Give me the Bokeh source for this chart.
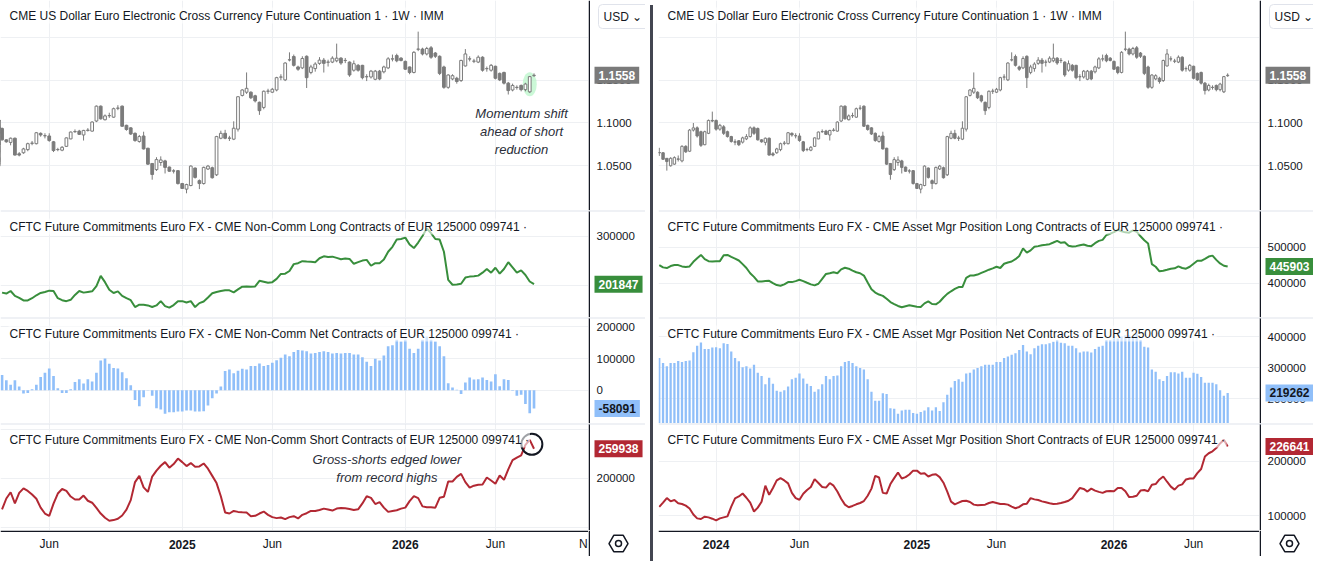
import numpy as np
import pandas as pd
from bokeh.plotting import figure
from bokeh.models import Range1d, FixedTicker, Grid, Label, Span, ColumnDataSource, Div
from bokeh.layouts import row, column
from bokeh.core.properties import value
from bokeh.embed import file_html
from bokeh.resources import INLINE

# ---------------- data ----------------
WEEK_START = "2023-09-18"      # first weekly bar (Monday)
LEFT_FIRST_WEEK = "2024-03-18"  # first week of the Non-Comm series

price_open = [1.0655, 1.0652, 1.0587, 1.0500, 1.0519, 1.0580, 1.0557, 1.0727, 1.0670, 1.0917,
              1.0943, 1.0898, 1.0746, 1.0879, 1.1030, 1.1030, 1.0928, 1.0955, 1.0898, 1.0841,
              1.0780, 1.0792, 1.0776, 1.0814, 1.0841, 1.0943, 1.0936, 1.0803, 1.0773, 1.0822,
              1.0640, 1.0652, 1.0689, 1.0762, 1.0758, 1.0879, 1.0850, 1.0848, 1.0780, 1.0690,
              1.0682, 1.0727, 1.0814, 1.0898, 1.0905, 1.0860, 1.0913, 1.0905, 1.1023, 1.1197,
              1.1038, 1.1085, 1.1068, 1.1172, 1.1197, 1.0973, 1.0943, 1.0879, 1.0784, 1.0848,
              1.0705, 1.0527, 1.0455, 1.0538, 1.0557, 1.0485, 1.0440, 1.0443, 1.0292, 1.0227,
              1.0269, 1.0473, 1.0326, 1.0292, 1.0462, 1.0477, 1.0394, 1.0822, 1.0879, 1.0824,
              1.0811, 1.0928, 1.1322, 1.1360, 1.1360, 1.1318, 1.1242, 1.1182, 1.1371, 1.1360,
              1.1386, 1.1536, 1.1504, 1.1737, 1.1777, 1.1655, 1.1644, 1.1780, 1.1591, 1.1636,
              1.1697, 1.1735, 1.1710, 1.1712, 1.1727, 1.1758, 1.1730, 1.1712, 1.1617, 1.1674,
              1.1674, 1.1540, 1.1538, 1.1511, 1.1606, 1.1598, 1.1644, 1.1748, 1.1788, 1.1758,
              1.1720, 1.1655, 1.1591, 1.1862, 1.1864, 1.1807, 1.1879, 1.1818, 1.1780, 1.1655,
              1.1417, 1.1515, 1.1523, 1.1496, 1.1667, 1.1748, 1.1722, 1.1712, 1.1769, 1.1635,
              1.1617, 1.1663, 1.1580, 1.1591, 1.1466, 1.1386, 1.1415, 1.1439, 1.1390, 1.1364,
              1.1553]
price_high = [1.0710, 1.0660, 1.0590, 1.0600, 1.0610, 1.0620, 1.0740, 1.0740, 1.0930, 1.1000,
              1.0960, 1.0910, 1.0910, 1.1040, 1.1133, 1.1040, 1.0990, 1.0975, 1.0910, 1.0850,
              1.0810, 1.0800, 1.0840, 1.0870, 1.0960, 1.0960, 1.0947, 1.0810, 1.0830, 1.0830,
              1.0660, 1.0710, 1.0770, 1.0790, 1.0895, 1.0890, 1.0880, 1.0880, 1.0790, 1.0710,
              1.0730, 1.0830, 1.0900, 1.0925, 1.0920, 1.0920, 1.0940, 1.1020, 1.1205, 1.1205,
              1.1100, 1.1120, 1.1180, 1.1208, 1.1205, 1.0980, 1.0950, 1.0890, 1.0860, 1.0898,
              1.0710, 1.0530, 1.0600, 1.0610, 1.0570, 1.0490, 1.0460, 1.0450, 1.0300, 1.0290,
              1.0505, 1.0480, 1.0340, 1.0490, 1.0510, 1.0490, 1.0850, 1.0910, 1.0920, 1.0850,
              1.1020, 1.1310, 1.1395, 1.1591, 1.1370, 1.1330, 1.1250, 1.1380, 1.1400, 1.1410,
              1.1540, 1.1570, 1.1710, 1.1826, 1.1800, 1.1670, 1.1780, 1.1790, 1.1680, 1.1710,
              1.1770, 1.1760, 1.1740, 1.1780, 1.1928, 1.1770, 1.1760, 1.1720, 1.1731, 1.1690,
              1.1680, 1.1570, 1.1620, 1.1620, 1.1620, 1.1670, 1.1770, 1.1800, 1.1810, 1.1770,
              1.1730, 1.1660, 1.1840, 1.2068, 1.1880, 1.1890, 1.1900, 1.1830, 1.1790, 1.1670,
              1.1570, 1.1570, 1.1540, 1.1740, 1.1864, 1.1780, 1.1750, 1.1790, 1.1780, 1.1660,
              1.1690, 1.1670, 1.1590, 1.1600, 1.1480, 1.1460, 1.1440, 1.1450, 1.1470, 1.1550,
              1.1580]
price_low = [1.0615, 1.0570, 1.0443, 1.0490, 1.0510, 1.0550, 1.0540, 1.0650, 1.0660, 1.0900,
             1.0830, 1.0720, 1.0740, 1.0870, 1.1010, 1.0910, 1.0910, 1.0860, 1.0830, 1.0770,
             1.0740, 1.0730, 1.0760, 1.0800, 1.0830, 1.0860, 1.0795, 1.0770, 1.0739, 1.0620,
             1.0610, 1.0640, 1.0670, 1.0740, 1.0750, 1.0840, 1.0820, 1.0780, 1.0660, 1.0670,
             1.0670, 1.0720, 1.0810, 1.0885, 1.0860, 1.0795, 1.0900, 1.0900, 1.1010, 1.1040,
             1.1030, 1.1060, 1.1060, 1.1150, 1.0955, 1.0910, 1.0860, 1.0780, 1.0770, 1.0690,
             1.0510, 1.0337, 1.0440, 1.0500, 1.0410, 1.0430, 1.0410, 1.0280, 1.0230, 1.0178,
             1.0260, 1.0350, 1.0227, 1.0280, 1.0450, 1.0350, 1.0380, 1.0810, 1.0810, 1.0790,
             1.0800, 1.0900, 1.1310, 1.1340, 1.1280, 1.1240, 1.1095, 1.1160, 1.1340, 1.1350,
             1.1370, 1.1500, 1.1490, 1.1720, 1.1660, 1.1610, 1.1630, 1.1409, 1.1570, 1.1600,
             1.1680, 1.1590, 1.1660, 1.1700, 1.1710, 1.1680, 1.1700, 1.1540, 1.1600, 1.1600,
             1.1510, 1.1490, 1.1520, 1.1500, 1.1500, 1.1580, 1.1630, 1.1720, 1.1710, 1.1720,
             1.1620, 1.1570, 1.1580, 1.1840, 1.1790, 1.1790, 1.1750, 1.1760, 1.1560, 1.1400,
             1.1400, 1.1500, 1.1460, 1.1480, 1.1660, 1.1720, 1.1700, 1.1700, 1.1600, 1.1600,
             1.1600, 1.1510, 1.1490, 1.1450, 1.1333, 1.1370, 1.1390, 1.1370, 1.1370, 1.1350,
             1.1540]
price_close = [1.0650, 1.0576, 1.0549, 1.0587, 1.0595, 1.0576, 1.0727, 1.0663, 1.0917, 1.0943,
               1.0848, 1.0739, 1.0898, 1.1030, 1.1023, 1.0928, 1.0973, 1.0879, 1.0841, 1.0784,
               1.0776, 1.0746, 1.0826, 1.0841, 1.0943, 1.0879, 1.0803, 1.0780, 1.0822, 1.0625,
               1.0625, 1.0697, 1.0758, 1.0765, 1.0886, 1.0860, 1.0852, 1.0795, 1.0678, 1.0689,
               1.0716, 1.0826, 1.0894, 1.0900, 1.0867, 1.0913, 1.0917, 1.1011, 1.1197, 1.1049,
               1.1083, 1.1087, 1.1167, 1.1174, 1.0962, 1.0924, 1.0871, 1.0795, 1.0841, 1.0697,
               1.0519, 1.0398, 1.0572, 1.0568, 1.0481, 1.0436, 1.0438, 1.0292, 1.0235, 1.0280,
               1.0496, 1.0364, 1.0292, 1.0481, 1.0496, 1.0360, 1.0841, 1.0879, 1.0822, 1.0822,
               1.0939, 1.1307, 1.1386, 1.1405, 1.1295, 1.1258, 1.1144, 1.1371, 1.1373, 1.1394,
               1.1530, 1.1538, 1.1701, 1.1739, 1.1674, 1.1629, 1.1754, 1.1530, 1.1655, 1.1689,
               1.1735, 1.1697, 1.1712, 1.1758, 1.1758, 1.1701, 1.1732, 1.1561, 1.1693, 1.1617,
               1.1530, 1.1542, 1.1606, 1.1606, 1.1515, 1.1655, 1.1750, 1.1750, 1.1727, 1.1731,
               1.1629, 1.1591, 1.1826, 1.1864, 1.1807, 1.1871, 1.1769, 1.1780, 1.1580, 1.1417,
               1.1561, 1.1553, 1.1485, 1.1731, 1.1807, 1.1750, 1.1724, 1.1769, 1.1617, 1.1636,
               1.1674, 1.1523, 1.1504, 1.1466, 1.1379, 1.1439, 1.1417, 1.1390, 1.1455, 1.1542,
               1.1558]

noncomm_long = [184700, 182700, 188000, 178000, 174000, 168700, 168700, 173300, 179300, 184000,
                186000, 188700, 188000, 173300, 169300, 167300, 170000, 180000, 188000, 184700,
                186000, 187300, 198000, 218700, 206000, 190700, 184000, 187300, 178000, 173300,
                169300, 155300, 160000, 160000, 158600, 155300, 158600, 167300, 157300, 154000,
                159300, 167300, 167300, 164600, 167300, 155300, 163300, 166700, 174700, 183300,
                186000, 188000, 189300, 189300, 185300, 191300, 196700, 197300, 196700, 197300,
                208700, 206700, 204700, 206000, 212700, 222700, 223300, 228700, 242700, 244700,
                248700, 248000, 247400, 246700, 254700, 258700, 257400, 258000, 255400, 252700,
                254000, 253400, 243400, 246700, 250000, 251400, 239400, 244700, 244700, 252000,
                268000, 278000, 292700, 294000, 296700, 282700, 275400, 286700, 300000, 315400,
                306000, 294000, 292700, 268000, 210700, 200700, 201300, 202700, 215300, 217300,
                218000, 219300, 225300, 232700, 225300, 235400, 223300, 232700, 246700, 236000,
                225300, 230000, 220700, 207300, 201847]
noncomm_net = [47900, 31300, 16700, 31300, 11500, -10400, -9400, 3100, 16700, 41700,
               55200, 68800, 44800, 6300, -9400, -9400, 3100, 26000, 34400, 20800,
               34400, 27100, 55200, 93800, 100000, 83400, 69800, 68800, 56300, 37500,
               15600, -31300, -51100, -22900, -1000, -17700, -57300, -61500, -75000, -69800,
               -69800, -67700, -67700, -64600, -64600, -67700, -67700, -66700, -49000, -26000,
               -10400, 11500, 60400, 65600, 53100, 61500, 67700, 65600, 76100, 76100,
               84400, 76100, 79200, 86500, 94800, 102100, 112500, 107300, 120900, 127100,
               125000, 123000, 115700, 117700, 120900, 123000, 120900, 115700, 117700, 115700,
               117700, 117700, 112500, 112500, 104200, 89600, 76100, 99000, 93800, 109400,
               138600, 141700, 159400, 154200, 159400, 131300, 117700, 131300, 159400, 169800,
               159400, 154200, 138600, 107300, 21900, 8300, 1500, -12500, 24000, 39600,
               33300, 34400, 39600, 32300, 27100, 50000, 12500, 34400, 32300, -2000,
               -17700, -14600, -43800, -72900, -58091]
noncomm_short = [136600, 158600, 171300, 148600, 170000, 179300, 174000, 166600, 158000, 140000,
                 128000, 123300, 148000, 168700, 178000, 174000, 162600, 156600, 156600, 164600,
                 154000, 150000, 139300, 128000, 119300, 113300, 114600, 117300, 124000, 136000,
                 155300, 192000, 204700, 181300, 172000, 203300, 215300, 225300, 232700, 221300,
                 228700, 240000, 232700, 224700, 230700, 223300, 224000, 230000, 219300, 204700,
                 190000, 163300, 130000, 128000, 133300, 131300, 130600, 130000, 122600, 123300,
                 128000, 132000, 125300, 120600, 118600, 120000, 116600, 120600, 122600, 118000,
                 125300, 128600, 133300, 133300, 135300, 138000, 136000, 134000, 138000, 139300,
                 138600, 137300, 135300, 136600, 148600, 163300, 160000, 147300, 151300, 140000,
                 131300, 133300, 134600, 138000, 140000, 153300, 163300, 159300, 142600, 140600,
                 140600, 140000, 160000, 162000, 193300, 193300, 202700, 208700, 192000, 180700,
                 184700, 186700, 187300, 201300, 195300, 188700, 205300, 196700, 218000, 236700,
                 242000, 246700, 268000, 278000, 259938]

assetmgr_long = [450100, 443700, 441900, 447300, 450100, 450100, 446400, 444600, 446400, 459100,
                 469100, 478200, 466400, 461000, 460000, 461000, 461000, 477300, 478200, 472800,
                 468200, 462800, 452800, 441900, 427400, 417400, 404700, 404700, 405600, 406500,
                 400100, 394700, 392900, 396500, 402800, 402800, 405600, 409200, 405600, 401000,
                 396500, 393800, 398300, 411900, 425500, 427400, 430100, 427400, 438300, 442800,
                 440100, 434600, 430100, 427400, 421000, 401900, 382900, 373800, 368300, 364700,
                 356500, 347500, 342000, 336600, 332900, 335700, 338400, 336600, 334700, 333800,
                 343800, 349300, 342000, 341100, 348400, 360200, 370200, 377400, 383800, 389200,
                 389200, 414600, 421000, 421000, 423700, 428300, 432800, 437300, 441000, 445500,
                 441900, 453700, 457300, 460000, 466400, 475500, 496400, 484600, 490900, 500900,
                 502700, 505400, 506400, 508200, 512700, 517300, 511800, 513600, 503600, 501800,
                 502700, 505400, 507300, 503600, 502700, 510900, 517300, 520000, 533600, 537200,
                 541800, 548100, 543600, 540900, 540000, 546300, 542700, 530000, 519100, 510000,
                 452800, 445500, 432800, 434600, 437300, 440100, 441000, 446400, 441900, 440100,
                 445500, 453700, 461900, 461900, 467300, 473700, 476400, 464600, 454600, 448200,
                 445903]
assetmgr_net = [331400, 315600, 305100, 315600, 315600, 321900, 318800, 321900, 324000, 350400,
                371500, 382100, 361000, 361000, 365200, 366200, 363100, 378900, 376800, 352500,
                331400, 320900, 301900, 305100, 297700, 310300, 284000, 273400, 247000, 268100,
                249100, 225900, 222800, 228000, 239600, 262900, 268100, 281800, 266000, 249100,
                241800, 222800, 231200, 247000, 273400, 262900, 273400, 275500, 305100, 318800,
                321900, 315600, 305100, 299800, 294500, 262900, 222800, 194300, 194300, 218500,
                215400, 170000, 167900, 152100, 162600, 164700, 164700, 154200, 152100, 157400,
                162600, 173200, 162600, 173200, 160500, 189000, 213300, 236500, 257600, 262900,
                255500, 281800, 284000, 294500, 299800, 305100, 310300, 310300, 310300, 318800,
                318800, 331400, 336700, 342000, 347300, 357800, 373600, 352500, 344100, 363100,
                371500, 375700, 375700, 378900, 384200, 389500, 381000, 378900, 371500, 371500,
                363100, 349400, 352500, 352500, 349400, 361000, 368400, 371500, 389500, 389500,
                400000, 394700, 400000, 405300, 405300, 400000, 410600, 389500, 368400, 365200,
                294500, 287100, 262900, 257600, 273400, 286100, 286100, 281800, 287100, 268100,
                268100, 284000, 280800, 270200, 252300, 252300, 252300, 247000, 228000, 210100,
                219262]
assetmgr_short = [116200, 124000, 132400, 126400, 128800, 122800, 121600, 118600, 113200, 102400,
                  95300, 94100, 98300, 97100, 94700, 91700, 95300, 97100, 98900, 116800,
                  131800, 135400, 140700, 133000, 124000, 107800, 115000, 125800, 155100, 138400,
                  150900, 164700, 168900, 164700, 159300, 141900, 132400, 129400, 140200, 147300,
                  152700, 167100, 159900, 152700, 151500, 159900, 155100, 144300, 131200, 120400,
                  115600, 118000, 121000, 123400, 127000, 136600, 149700, 173100, 170100, 141900,
                  140700, 158100, 168900, 179100, 168300, 170700, 175500, 182600, 182600, 176700,
                  177900, 171900, 174900, 176100, 170700, 160500, 144300, 125800, 121000, 124000,
                  127000, 127600, 125200, 120400, 119200, 119800, 120400, 123400, 125200, 123400,
                  121600, 121600, 120400, 116800, 113800, 116200, 121000, 122200, 132400, 130000,
                  128800, 126400, 124600, 122800, 121600, 122200, 123400, 125200, 127600, 132400,
                  141900, 150900, 149100, 144300, 149700, 146100, 143700, 141900, 144900, 145500,
                  144900, 150900, 150900, 144900, 134200, 134800, 136600, 146100, 147300, 144900,
                  156900, 158100, 166500, 171900, 162300, 153300, 147900, 155100, 157500, 166500,
                  168300, 168300, 177900, 185600, 208400, 214400, 218000, 223900, 232300, 238900,
                  226641]

left_tick_months = ["2024-06", "2025-01", "2025-06", "2026-01", "2026-06", "2026-11"]
left_tick_labels = ["Jun", "2025", "Jun", "2026", "Jun", "Nov"]
right_tick_months = ["2024-01", "2024-06", "2025-01", "2025-06", "2026-01", "2026-06"]
right_tick_labels = ["2024", "Jun", "2025", "Jun", "2026", "Jun"]

PRICE_TITLE = "CME US Dollar Euro Electronic Cross Currency Future Continuation 1 \u00b7 1W \u00b7 IMM"
LEFT_TITLES = ["CFTC Future Commitments Euro FX - CME Non-Comm Long Contracts of EUR 125000 099741 \u00b7",
               "CFTC Future Commitments Euro FX - CME Non-Comm Net Contracts of EUR 125000 099741 \u00b7",
               "CFTC Future Commitments Euro FX - CME Non-Comm Short Contracts of EUR 125000 099741 \u00b7"]
RIGHT_TITLES = ["CFTC Future Commitments Euro FX - CME Asset Mgr Position Long Contracts of EUR 125000 099741 \u00b7",
                "CFTC Future Commitments Euro FX - CME Asset Mgr Position Net Contracts of EUR 125000 099741 \u00b7",
                "CFTC Future Commitments Euro FX - CME Asset Mgr Position Short Contracts of EUR 125000 099741 \u00b7"]
NOTE_PRICE = "Momentum shift\nahead of short\nreduction"
NOTE_SHORT = "Gross-shorts edged lower\nfrom record highs"

# ---------------- style ----------------
FONT = "Liberation Sans"
TXT = "#131722"
GRID = "#eef0f3"
CANDLE = "#7b7b7b"
GREEN = "#388e3c"
RED = "#b22833"
BLUE = "#90bff9"
AXLINE = "#131722"
PANE_SEP = "#e0e3eb"

H_TOP, H_L, H_N, H_S, H_X = 210, 107, 106, 107, 26
PW_L, AX_L = 588, 57
PW_R, AX_R = 601, 54


def bar_of(month):
    d = (pd.Timestamp(month + "-01") - pd.Timestamp(WEEK_START)).days
    return int(np.ceil(d / 7))


n_all = len(price_close)
x_all = np.arange(n_all)
left_first = (pd.Timestamp(LEFT_FIRST_WEEK) - pd.Timestamp(WEEK_START)).days // 7
x_left = np.arange(left_first, left_first + len(noncomm_long))

left_ticks = [bar_of(m) for m in left_tick_months]
right_ticks = [bar_of(m) for m in right_tick_months]

xr_left = Range1d(25.64, 162.7)
xr_right = Range1d(-0.2, 158.4)


def base_fig(w, h, xr, yr):
    p = figure(width=w, height=h, x_range=xr, y_range=yr, x_axis_type=None, y_axis_type=None,
               output_backend="svg", toolbar_location=None, title=None,
               min_border_left=0, min_border_right=0, min_border_top=0, min_border_bottom=0)
    p.outline_line_color = None
    p.background_fill_color = "white"
    p.border_fill_color = "white"
    return p


def pane(xr, w, h, yr, gticks, xticks, sep=True):
    p = base_fig(w, h, xr, yr)
    p.add_layout(Grid(dimension=1, ticker=FixedTicker(ticks=gticks), grid_line_color=GRID))
    p.add_layout(Grid(dimension=0, ticker=FixedTicker(ticks=xticks), grid_line_color=GRID))
    if sep:
        p.add_layout(Span(location=yr.end, dimension="width", line_color=PANE_SEP, line_width=2))
    return p


def price_axis(w, h, yr, ticks, labels, sep=True):
    a = base_fig(w, h, Range1d(0, w), yr)
    a.add_layout(Span(location=0.75, dimension="height", line_color=AXLINE, line_width=1.5))
    if sep:
        a.add_layout(Span(location=yr.end, dimension="width", line_color=PANE_SEP, line_width=2))
    src = ColumnDataSource(dict(x=[8] * len(ticks), y=ticks, t=labels))
    a.text(x="x", y="y", text="t", source=src, text_font=value(FONT), text_font_size="11.5px",
           text_color=TXT, text_align="left", text_baseline="middle")
    return a


def title(p, text, xr, yhi, dy):
    p.add_layout(Label(x=xr.start, y=yhi, x_offset=8, y_offset=-dy, text=text, text_font=FONT,
                       text_font_size="12px", text_color=TXT, text_baseline="middle",
                       background_fill_color="white", background_fill_alpha=0.6, padding=1))


def badge(a, y, text, bg, fg="white"):
    a.add_layout(Label(x=6, y=y, text=text, text_font=FONT, text_font_size="12px",
                       text_font_style="bold", text_color=fg, text_baseline="middle",
                       background_fill_color=bg, padding=4))


def usd_box(a, yhi):
    a.add_layout(Label(x=10, y=yhi, y_offset=-16, text="USD   \u2304", text_font=FONT,
                       text_font_size="12px", text_color=TXT, text_baseline="middle",
                       background_fill_color="white", border_line_color=PANE_SEP,
                       border_radius=4, padding=5))


def candles(p):
    o = np.array(price_open); c = np.array(price_close)
    src = ColumnDataSource(dict(x=x_all, low=price_low, high=price_high,
                                top=np.maximum(o, c), bottom=np.minimum(o, c),
                                fill=np.where(c >= o, "white", CANDLE)))
    p.segment(x0="x", y0="low", x1="x", y1="high", source=src, line_color=CANDLE, line_width=1)
    p.vbar(x="x", width=0.64, top="top", bottom="bottom", fill_color="fill", line_color=CANDLE,
           line_width=1, source=src)


def xstrip(xr, w, ticks, labels):
    p = base_fig(w, H_X, xr, Range1d(0, 1))
    p.add_layout(Span(location=0.97, dimension="width", line_color=AXLINE, line_width=1.5))
    styles = ["bold" if lab.isdigit() else "normal" for lab in labels]
    src = ColumnDataSource(dict(x=ticks, y=[0.48] * len(ticks), t=labels, s=styles))
    p.text(x="x", y="y", text="t", text_font_style="s", source=src, text_font=value(FONT),
           text_font_size="12px", text_color=TXT, text_align="center", text_baseline="middle")
    return p


def xstrip_axis(w):
    a = base_fig(w, H_X, Range1d(0, w), Range1d(0, 1))
    a.add_layout(Span(location=0.75, dimension="height", line_color=AXLINE, line_width=1.5))
    a.scatter(x=[30], y=[0.5], marker="hex", size=19, fill_color=None, line_color=TXT, line_width=1.5)
    a.scatter(x=[30], y=[0.5], marker="circle", size=6, fill_color=None, line_color=TXT, line_width=1.5)
    return a


def fmt_price(v):
    return "%.4f" % v


def fmt_int(v):
    return "%d" % v


# ---------------- left chart ----------------
yr_price_l = Range1d(0.9977, 1.2432)
lp = pane(xr_left, PW_L, H_TOP, yr_price_l, [1.05, 1.10, 1.15, 1.20], left_ticks, sep=False)
hl = 149
lp.ellipse(x=[hl], y=[(price_open[hl] + price_close[hl]) / 2], width=14, height=24,
           width_units="screen", height_units="screen", fill_color="#b9f6ca", fill_alpha=0.75, line_color=None)
candles(lp)
title(lp, PRICE_TITLE, xr_left, yr_price_l.end, 15)
lp.add_layout(Label(x=147.1, y=1.1193, text=NOTE_PRICE, text_font=FONT, text_font_size="13px",
                    text_font_style="italic", text_color="#2a2e39", text_align="center", text_baseline="top"))
lpa = price_axis(AX_L, H_TOP, yr_price_l, [1.05, 1.10, 1.15], [fmt_price(t) for t in [1.05, 1.10, 1.15]], sep=False)
badge(lpa, price_close[-1], fmt_price(price_close[-1]), "#7a7a7a")
usd_box(lpa, yr_price_l.end)

yr_ll = Range1d(134000, 352000)
ll = pane(xr_left, PW_L, H_L, yr_ll, [200000, 300000], left_ticks)
ll.line(x_left, noncomm_long, line_color=GREEN, line_width=2)
title(ll, LEFT_TITLES[0], xr_left, yr_ll.end, 16)
lla = price_axis(AX_L, H_L, yr_ll, [200000, 300000], [fmt_int(t) for t in [200000, 300000]])
badge(lla, noncomm_long[-1], fmt_int(noncomm_long[-1]), GREEN)

yr_ln = Range1d(-105600, 229800)
ln = pane(xr_left, PW_L, H_N, yr_ln, [0, 100000, 200000], left_ticks)
ln.vbar(x=x_left, width=0.62, top=noncomm_net, bottom=0, fill_color=BLUE, line_color=None)
title(ln, LEFT_TITLES[1], xr_left, yr_ln.end, 16)
lna = price_axis(AX_L, H_N, yr_ln, [0, 100000, 200000], [fmt_int(t) for t in [0, 100000, 200000]])
badge(lna, noncomm_net[-1], fmt_int(noncomm_net[-1]), BLUE, TXT)

yr_ls = Range1d(93400, 311400)
ls = pane(xr_left, PW_L, H_S, yr_ls, [100000, 200000, 300000], left_ticks)
ls.line(x_left, noncomm_short, line_color=RED, line_width=2)
title(ls, LEFT_TITLES[2], xr_left, yr_ls.end, 16)
ls.scatter(x=[x_left[-1] - 0.5], y=[(noncomm_short[-1] + noncomm_short[-2]) / 2], size=21, marker="circle",
           fill_color=None, line_color=TXT, line_width=2)
ls.add_layout(Label(x=115.7, y=254000, text=NOTE_SHORT, text_font=FONT, text_font_size="13px",
                    text_font_style="italic", text_color="#2a2e39", text_align="center", text_baseline="top"))
lsa = price_axis(AX_L, H_S, yr_ls, [200000], [fmt_int(200000)])
badge(lsa, noncomm_short[-1], fmt_int(noncomm_short[-1]), RED)

lx = xstrip(xr_left, PW_L, left_ticks, left_tick_labels)
lxa = xstrip_axis(AX_L)

# ---------------- right chart ----------------
yr_price_r = Range1d(0.9977, 1.2432)
rp = pane(xr_right, PW_R, H_TOP, yr_price_r, [1.05, 1.10, 1.15, 1.20], right_ticks, sep=False)
candles(rp)
title(rp, PRICE_TITLE, xr_right, yr_price_r.end, 15)
rpa = price_axis(AX_R, H_TOP, yr_price_r, [1.05, 1.10, 1.15], [fmt_price(t) for t in [1.05, 1.10, 1.15]], sep=False)
badge(rpa, price_close[-1], fmt_price(price_close[-1]), "#7a7a7a")
usd_box(rpa, yr_price_r.end)

yr_rl = Range1d(304600, 601600)
rl = pane(xr_right, PW_R, H_L, yr_rl, [400000, 500000], right_ticks)
rl.line(x_all, assetmgr_long, line_color=GREEN, line_width=2)
title(rl, RIGHT_TITLES[0], xr_right, yr_rl.end, 16)
rla = price_axis(AX_R, H_L, yr_rl, [400000, 500000], [fmt_int(t) for t in [400000, 500000]])
badge(rla, assetmgr_long[-1], fmt_int(assetmgr_long[-1]), GREEN)

yr_rn = Range1d(120600, 462300)
rn = pane(xr_right, PW_R, H_N, yr_rn, [200000, 300000, 400000], right_ticks)
rn.vbar(x=x_all, width=0.6, top=assetmgr_net, bottom=0, fill_color=BLUE, line_color=None)
title(rn, RIGHT_TITLES[1], xr_right, yr_rn.end, 16)
rna = price_axis(AX_R, H_N, yr_rn, [200000, 300000, 400000], [fmt_int(t) for t in [200000, 300000, 400000]])
badge(rna, assetmgr_net[-1], fmt_int(assetmgr_net[-1]), BLUE, TXT)

yr_rs = Range1d(73100, 268800)
rs = pane(xr_right, PW_R, H_S, yr_rs, [100000, 200000], right_ticks)
rs.line(x_all, assetmgr_short, line_color=RED, line_width=2)
title(rs, RIGHT_TITLES[2], xr_right, yr_rs.end, 16)
rsa = price_axis(AX_R, H_S, yr_rs, [100000, 200000], [fmt_int(t) for t in [100000, 200000]])
badge(rsa, assetmgr_short[-1], fmt_int(assetmgr_short[-1]), RED)

rx = xstrip(xr_right, PW_R, right_ticks, right_tick_labels)
rxa = xstrip_axis(AX_R)

sep = Div(text="", width=3, height=H_TOP + H_L + H_N + H_S + H_X,
          styles={"background-color": "#434651"})

left_col = column(row(lp, lpa), row(ll, lla), row(ln, lna), row(ls, lsa), row(lx, lxa))
right_col = column(row(rp, rpa), row(rl, rla), row(rn, rna), row(rs, rsa), row(rx, rxa))
layout = row(left_col, sep, right_col)

with open("out.html", "w") as f:
    f.write(file_html(layout, INLINE))
